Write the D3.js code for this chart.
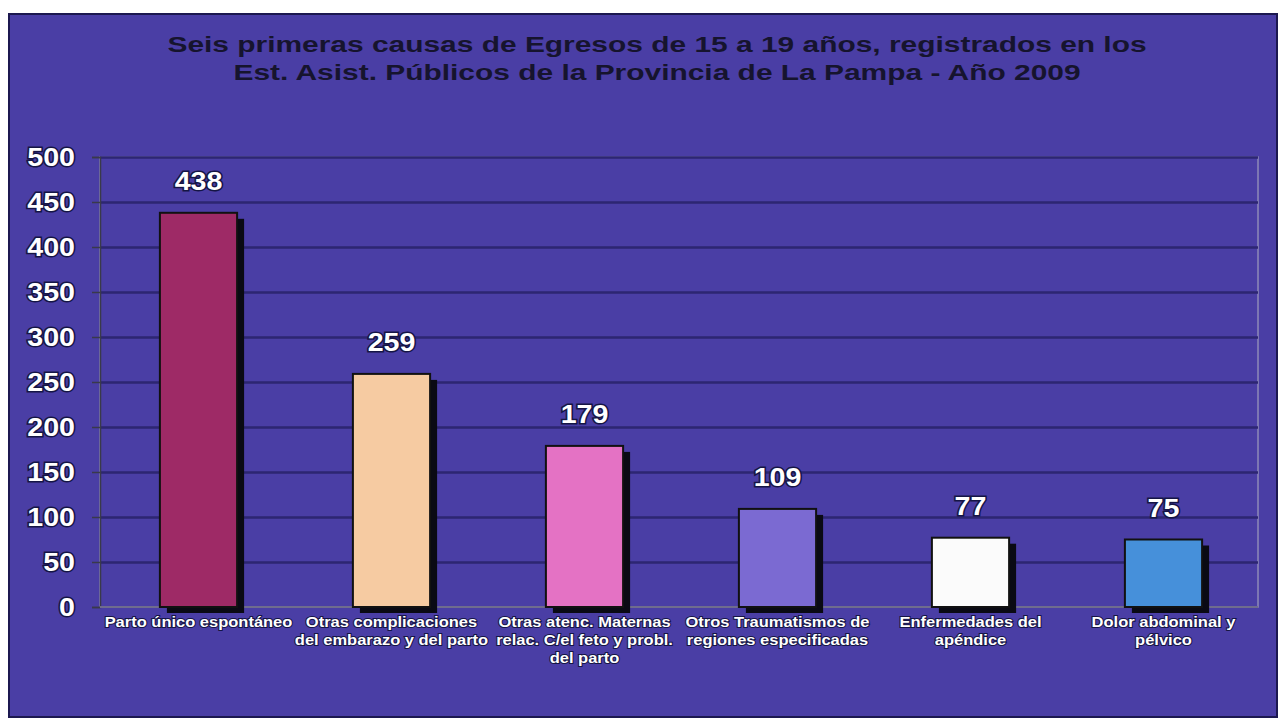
<!DOCTYPE html>
<html>
<head>
<meta charset="utf-8">
<script src="https://cdn.jsdelivr.net/npm/d3@7"></script>
<style>
  html, body { margin: 0; padding: 0; background: #ffffff; }
  svg { display: block; }
  text { font-family: "Liberation Sans", Arial, sans-serif; font-weight: bold; }
</style>
</head>
<body>
<svg id="chart" width="1283" height="723"></svg>
<script>
// Egresos hospitalarios 15-19 años, La Pampa 2009
const categories = [
  "Parto único espontáneo",
  "Otras complicaciones del embarazo y del parto",
  "Otras atenc. Maternas relac. C/el feto y probl. del parto",
  "Otros Traumatismos de regiones especificadas",
  "Enfermedades del apéndice",
  "Dolor abdominal y pélvico"
];
const categoryLines = [
  ["Parto único espontáneo"],
  ["Otras complicaciones", "del embarazo y del parto"],
  ["Otras atenc. Maternas", "relac. C/el feto y probl.", "del parto"],
  ["Otros Traumatismos de", "regiones especificadas"],
  ["Enfermedades del", "apéndice"],
  ["Dolor abdominal y", "pélvico"]
];
const values = [438, 259, 179, 109, 77, 75];
const barColors = ["#9e2a66", "#f6cba2", "#e472c4", "#7b6ad2", "#fbfbfb", "#4690da"];
const yTicks = [0, 50, 100, 150, 200, 250, 300, 350, 400, 450, 500];
const titleLines = [
  "Seis primeras causas de Egresos de 15 a 19 años, registrados en los",
  "Est. Asist. Públicos de la Provincia de La Pampa - Año 2009"
];

const svg = d3.select("#chart");
const W = 1283, H = 723;
const bg = "#4a3ea5";

// the whole slide is rendered with a wide aspect, so text is stretched sideways
const stretch = (sx) => (x, y) => `translate(${x},${y}) scale(${sx},1)`;

// panel
svg.append("rect")
  .attr("x", 9).attr("y", 14).attr("width", W - 15).attr("height", H - 20)
  .attr("fill", bg).attr("stroke", "#1c1850").attr("stroke-width", 2);

const plot = { left: 100, right: 1258, top: 157, bottom: 607 };

const x = d3.scaleBand()
  .domain(categories)
  .range([plot.left + 2, plot.right + 2])
  .paddingInner(0.6)
  .paddingOuter(0.3);

const y = d3.scaleLinear().domain([0, 500]).range([plot.bottom, plot.top]);

// plot area frame
svg.append("rect")
  .attr("x", plot.left).attr("y", plot.top)
  .attr("width", plot.right - plot.left).attr("height", plot.bottom - plot.top)
  .attr("fill", "none").attr("stroke", "#8e8ab8").attr("stroke-width", 1.5);

// gridlines
const grid = svg.append("g")
  .attr("transform", `translate(${plot.left},0)`)
  .call(d3.axisLeft(y).tickValues(yTicks.filter(t => t > 0))
    .tickSize(-(plot.right - plot.left)).tickFormat(""));
grid.select(".domain").remove();
grid.selectAll(".tick line")
  .attr("stroke", "#2d2672").attr("stroke-width", 2.5);

// y axis line and ticks
const yAxis = svg.append("g")
  .attr("transform", `translate(${plot.left},0)`)
  .call(d3.axisLeft(y).tickValues(yTicks).tickSize(8).tickFormat(""));
yAxis.select(".domain").attr("stroke", "#3a3a4a").attr("stroke-width", 1.5);
yAxis.selectAll(".tick line").attr("stroke", "#3a3a4a").attr("stroke-width", 1.5);

// x axis baseline
svg.append("line")
  .attr("x1", plot.left).attr("x2", plot.right)
  .attr("y1", y(0)).attr("y2", y(0))
  .attr("stroke", "#6f6c8e").attr("stroke-width", 2);

// y tick labels
const yLab = stretch(1.1);
svg.append("g").selectAll("text")
  .data(yTicks).join("text")
  .attr("transform", d => yLab(75, y(d)))
  .attr("dy", "0.36em")
  .attr("text-anchor", "end")
  .attr("font-size", 26)
  .attr("fill", "#ffffff")
  .attr("stroke", "#151545").attr("stroke-width", 3)
  .attr("paint-order", "stroke")
  .text(d => d);

// bar shadows
svg.append("g").selectAll("rect")
  .data(values).join("rect")
  .attr("x", (d, i) => x(categories[i]) + 7)
  .attr("y", d => y(d) + 6)
  .attr("width", x.bandwidth())
  .attr("height", d => y(0) - y(d))
  .attr("fill", "#0a0a14");

// bars
svg.append("g").selectAll("rect")
  .data(values).join("rect")
  .attr("x", (d, i) => x(categories[i]))
  .attr("y", d => y(d))
  .attr("width", x.bandwidth())
  .attr("height", d => y(0) - y(d))
  .attr("fill", (d, i) => barColors[i])
  .attr("stroke", "#111111").attr("stroke-width", 2);

// value labels
const vLab = stretch(1.1);
svg.append("g").selectAll("text")
  .data(values).join("text")
  .attr("transform", (d, i) => vLab(x(categories[i]) + x.bandwidth() / 2, y(d) - 32))
  .attr("dy", "0.36em")
  .attr("text-anchor", "middle")
  .attr("font-size", 26)
  .attr("fill", "#ffffff")
  .attr("stroke", "#151545").attr("stroke-width", 3)
  .attr("paint-order", "stroke")
  .text(d => d);

// category labels
const cLab = stretch(1.1);
const catG = svg.append("g");
categories.forEach((c, i) => {
  const t = catG.append("text")
    .attr("transform", cLab(x(c) + x.bandwidth() / 2, plot.bottom + 20))
    .attr("text-anchor", "middle")
    .attr("font-size", 15)
    .attr("fill", "#ffffff")
    .attr("stroke", "#151545").attr("stroke-width", 2)
    .attr("paint-order", "stroke");
  categoryLines[i].forEach((ln, j) => {
    t.append("tspan")
      .attr("x", 0)
      .attr("dy", j === 0 ? 0 : 18)
      .text(ln);
  });
});

// title
const tLab = stretch(1.36);
const title = svg.append("text")
  .attr("transform", tLab(657, 52))
  .attr("text-anchor", "middle")
  .attr("font-size", 22)
  .attr("fill", "#16142e");
titleLines.forEach((ln, j) => {
  title.append("tspan").attr("x", 0).attr("dy", j === 0 ? 0 : 28).text(ln);
});
</script>
</body>
</html>
